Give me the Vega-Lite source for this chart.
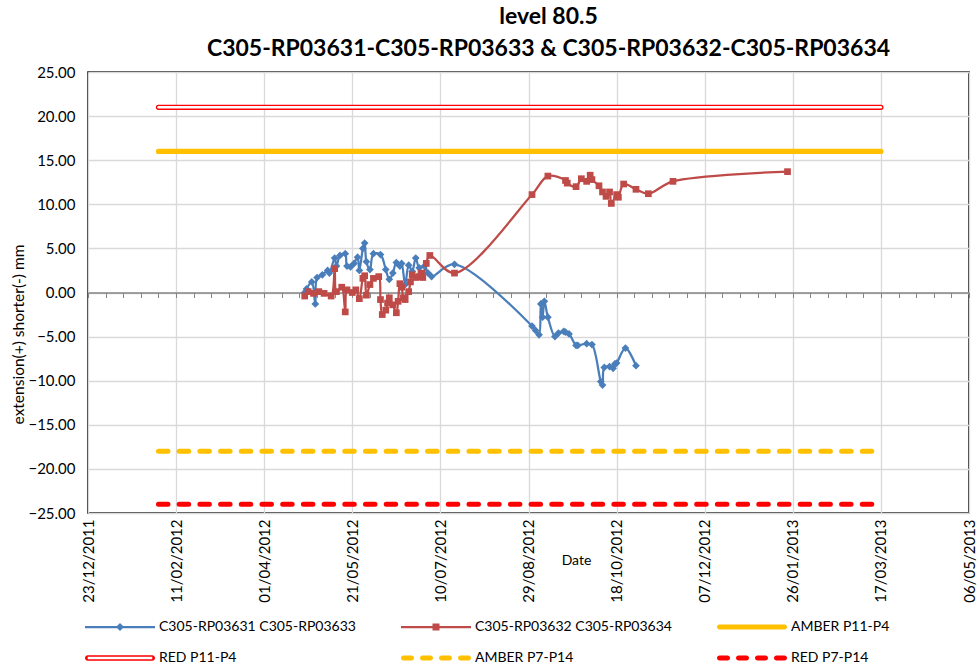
{
  "$schema": "https://vega.github.io/schema/vega-lite/v6.json",
  "width": 881,
  "height": 441,
  "autosize": "none",
  "padding": {"left": 88, "top": 72, "right": 9, "bottom": 157},
  "background": "white",
  "config": {
    "font": "Lato",
    "view": {"stroke": "black", "strokeWidth": 1.5}
  },
  "title": {
    "text": ["level 80.5", "C305-RP03631-C305-RP03633 & C305-RP03632-C305-RP03634"],
    "font": "Lato",
    "fontSize": 23,
    "fontWeight": "bold",
    "color": "black",
    "lineHeight": 32,
    "anchor": "middle",
    "dx": 20,
    "offset": 4
  },
  "datasets": {
    "obs": [
      {"series": "C305-RP03631 C305-RP03633", "date": "2012-04-24", "value": 0.0},
      {"series": "C305-RP03631 C305-RP03633", "date": "2012-04-25", "value": 0.4},
      {"series": "C305-RP03631 C305-RP03633", "date": "2012-04-28", "value": 1.2},
      {"series": "C305-RP03631 C305-RP03633", "date": "2012-04-30", "value": -1.3},
      {"series": "C305-RP03631 C305-RP03633", "date": "2012-05-01", "value": 1.7},
      {"series": "C305-RP03631 C305-RP03633", "date": "2012-05-04", "value": 2.0},
      {"series": "C305-RP03631 C305-RP03633", "date": "2012-05-07", "value": 2.5},
      {"series": "C305-RP03631 C305-RP03633", "date": "2012-05-08", "value": 2.2},
      {"series": "C305-RP03631 C305-RP03633", "date": "2012-05-11", "value": 3.9},
      {"series": "C305-RP03631 C305-RP03633", "date": "2012-05-12", "value": 3.0},
      {"series": "C305-RP03631 C305-RP03633", "date": "2012-05-14", "value": 4.2},
      {"series": "C305-RP03631 C305-RP03633", "date": "2012-05-17", "value": 4.4},
      {"series": "C305-RP03631 C305-RP03633", "date": "2012-05-18", "value": 3.0},
      {"series": "C305-RP03631 C305-RP03633", "date": "2012-05-20", "value": 2.9},
      {"series": "C305-RP03631 C305-RP03633", "date": "2012-05-22", "value": 3.3},
      {"series": "C305-RP03631 C305-RP03633", "date": "2012-05-24", "value": 4.0},
      {"series": "C305-RP03631 C305-RP03633", "date": "2012-05-25", "value": 2.5},
      {"series": "C305-RP03631 C305-RP03633", "date": "2012-05-27", "value": 5.0},
      {"series": "C305-RP03631 C305-RP03633", "date": "2012-05-28", "value": 5.6},
      {"series": "C305-RP03631 C305-RP03633", "date": "2012-05-29", "value": 3.5},
      {"series": "C305-RP03631 C305-RP03633", "date": "2012-05-31", "value": 2.6},
      {"series": "C305-RP03631 C305-RP03633", "date": "2012-06-02", "value": 4.4},
      {"series": "C305-RP03631 C305-RP03633", "date": "2012-06-06", "value": 4.3},
      {"series": "C305-RP03631 C305-RP03633", "date": "2012-06-09", "value": 2.6},
      {"series": "C305-RP03631 C305-RP03633", "date": "2012-06-11", "value": 1.5},
      {"series": "C305-RP03631 C305-RP03633", "date": "2012-06-13", "value": 2.2},
      {"series": "C305-RP03631 C305-RP03633", "date": "2012-06-15", "value": 3.4},
      {"series": "C305-RP03631 C305-RP03633", "date": "2012-06-17", "value": 3.0},
      {"series": "C305-RP03631 C305-RP03633", "date": "2012-06-18", "value": 3.3},
      {"series": "C305-RP03631 C305-RP03633", "date": "2012-06-20", "value": 0.9},
      {"series": "C305-RP03631 C305-RP03633", "date": "2012-06-22", "value": 3.1},
      {"series": "C305-RP03631 C305-RP03633", "date": "2012-06-24", "value": 2.4},
      {"series": "C305-RP03631 C305-RP03633", "date": "2012-06-26", "value": 3.9},
      {"series": "C305-RP03631 C305-RP03633", "date": "2012-06-28", "value": 2.8},
      {"series": "C305-RP03631 C305-RP03633", "date": "2012-07-01", "value": 3.0},
      {"series": "C305-RP03631 C305-RP03633", "date": "2012-07-03", "value": 2.2},
      {"series": "C305-RP03631 C305-RP03633", "date": "2012-07-05", "value": 1.8},
      {"series": "C305-RP03631 C305-RP03633", "date": "2012-07-18", "value": 3.2},
      {"series": "C305-RP03631 C305-RP03633", "date": "2012-08-31", "value": -3.8},
      {"series": "C305-RP03631 C305-RP03633", "date": "2012-09-02", "value": -4.3},
      {"series": "C305-RP03631 C305-RP03633", "date": "2012-09-04", "value": -4.8},
      {"series": "C305-RP03631 C305-RP03633", "date": "2012-09-05", "value": -1.3},
      {"series": "C305-RP03631 C305-RP03633", "date": "2012-09-06", "value": -2.8},
      {"series": "C305-RP03631 C305-RP03633", "date": "2012-09-07", "value": -1.0},
      {"series": "C305-RP03631 C305-RP03633", "date": "2012-09-09", "value": -2.8},
      {"series": "C305-RP03631 C305-RP03633", "date": "2012-09-13", "value": -5.0},
      {"series": "C305-RP03631 C305-RP03633", "date": "2012-09-15", "value": -4.6},
      {"series": "C305-RP03631 C305-RP03633", "date": "2012-09-18", "value": -4.4},
      {"series": "C305-RP03631 C305-RP03633", "date": "2012-09-19", "value": -4.5},
      {"series": "C305-RP03631 C305-RP03633", "date": "2012-09-21", "value": -4.7},
      {"series": "C305-RP03631 C305-RP03633", "date": "2012-09-25", "value": -6.0},
      {"series": "C305-RP03631 C305-RP03633", "date": "2012-09-26", "value": -6.0},
      {"series": "C305-RP03631 C305-RP03633", "date": "2012-10-01", "value": -5.8},
      {"series": "C305-RP03631 C305-RP03633", "date": "2012-10-04", "value": -5.9},
      {"series": "C305-RP03631 C305-RP03633", "date": "2012-10-09", "value": -10.1},
      {"series": "C305-RP03631 C305-RP03633", "date": "2012-10-10", "value": -10.5},
      {"series": "C305-RP03631 C305-RP03633", "date": "2012-10-11", "value": -8.5},
      {"series": "C305-RP03631 C305-RP03633", "date": "2012-10-14", "value": -8.4},
      {"series": "C305-RP03631 C305-RP03633", "date": "2012-10-16", "value": -8.6},
      {"series": "C305-RP03631 C305-RP03633", "date": "2012-10-17", "value": -8.1},
      {"series": "C305-RP03631 C305-RP03633", "date": "2012-10-18", "value": -8.0},
      {"series": "C305-RP03631 C305-RP03633", "date": "2012-10-23", "value": -6.3},
      {"series": "C305-RP03631 C305-RP03633", "date": "2012-10-29", "value": -8.3},
      {"series": "C305-RP03632 C305-RP03634", "date": "2012-04-24", "value": -0.4},
      {"series": "C305-RP03632 C305-RP03634", "date": "2012-04-26", "value": 0.1},
      {"series": "C305-RP03632 C305-RP03634", "date": "2012-04-29", "value": -0.1},
      {"series": "C305-RP03632 C305-RP03634", "date": "2012-05-02", "value": 0.1},
      {"series": "C305-RP03632 C305-RP03634", "date": "2012-05-05", "value": -0.1},
      {"series": "C305-RP03632 C305-RP03634", "date": "2012-05-09", "value": -0.4},
      {"series": "C305-RP03632 C305-RP03634", "date": "2012-05-11", "value": 2.7},
      {"series": "C305-RP03632 C305-RP03634", "date": "2012-05-12", "value": 0.1},
      {"series": "C305-RP03632 C305-RP03634", "date": "2012-05-15", "value": 0.6},
      {"series": "C305-RP03632 C305-RP03634", "date": "2012-05-17", "value": -2.2},
      {"series": "C305-RP03632 C305-RP03634", "date": "2012-05-18", "value": 0.3},
      {"series": "C305-RP03632 C305-RP03634", "date": "2012-05-21", "value": 0.0},
      {"series": "C305-RP03632 C305-RP03634", "date": "2012-05-23", "value": 0.3},
      {"series": "C305-RP03632 C305-RP03634", "date": "2012-05-25", "value": -0.7},
      {"series": "C305-RP03632 C305-RP03634", "date": "2012-05-27", "value": 1.6},
      {"series": "C305-RP03632 C305-RP03634", "date": "2012-05-28", "value": 1.9},
      {"series": "C305-RP03632 C305-RP03634", "date": "2012-05-29", "value": -0.3},
      {"series": "C305-RP03632 C305-RP03634", "date": "2012-05-31", "value": 0.9},
      {"series": "C305-RP03632 C305-RP03634", "date": "2012-06-02", "value": 1.6},
      {"series": "C305-RP03632 C305-RP03634", "date": "2012-06-05", "value": 1.8},
      {"series": "C305-RP03632 C305-RP03634", "date": "2012-06-06", "value": -0.8},
      {"series": "C305-RP03632 C305-RP03634", "date": "2012-06-07", "value": -2.5},
      {"series": "C305-RP03632 C305-RP03634", "date": "2012-06-09", "value": -2.0},
      {"series": "C305-RP03632 C305-RP03634", "date": "2012-06-10", "value": -1.2},
      {"series": "C305-RP03632 C305-RP03634", "date": "2012-06-11", "value": -0.6},
      {"series": "C305-RP03632 C305-RP03634", "date": "2012-06-13", "value": -1.4},
      {"series": "C305-RP03632 C305-RP03634", "date": "2012-06-15", "value": -2.3},
      {"series": "C305-RP03632 C305-RP03634", "date": "2012-06-16", "value": -1.0},
      {"series": "C305-RP03632 C305-RP03634", "date": "2012-06-17", "value": 1.0},
      {"series": "C305-RP03632 C305-RP03634", "date": "2012-06-18", "value": 0.6},
      {"series": "C305-RP03632 C305-RP03634", "date": "2012-06-19", "value": -0.6},
      {"series": "C305-RP03632 C305-RP03634", "date": "2012-06-20", "value": -0.8},
      {"series": "C305-RP03632 C305-RP03634", "date": "2012-06-22", "value": 0.1},
      {"series": "C305-RP03632 C305-RP03634", "date": "2012-06-23", "value": 1.2},
      {"series": "C305-RP03632 C305-RP03634", "date": "2012-06-24", "value": 2.0},
      {"series": "C305-RP03632 C305-RP03634", "date": "2012-06-26", "value": 1.7},
      {"series": "C305-RP03632 C305-RP03634", "date": "2012-06-28", "value": 1.8},
      {"series": "C305-RP03632 C305-RP03634", "date": "2012-06-29", "value": 2.2},
      {"series": "C305-RP03632 C305-RP03634", "date": "2012-06-30", "value": 1.7},
      {"series": "C305-RP03632 C305-RP03634", "date": "2012-07-02", "value": 3.3},
      {"series": "C305-RP03632 C305-RP03634", "date": "2012-07-04", "value": 4.2},
      {"series": "C305-RP03632 C305-RP03634", "date": "2012-07-18", "value": 2.2},
      {"series": "C305-RP03632 C305-RP03634", "date": "2012-08-31", "value": 11.1},
      {"series": "C305-RP03632 C305-RP03634", "date": "2012-09-09", "value": 13.2},
      {"series": "C305-RP03632 C305-RP03634", "date": "2012-09-19", "value": 12.7},
      {"series": "C305-RP03632 C305-RP03634", "date": "2012-09-20", "value": 12.4},
      {"series": "C305-RP03632 C305-RP03634", "date": "2012-09-25", "value": 12.0},
      {"series": "C305-RP03632 C305-RP03634", "date": "2012-09-28", "value": 12.9},
      {"series": "C305-RP03632 C305-RP03634", "date": "2012-10-01", "value": 12.6},
      {"series": "C305-RP03632 C305-RP03634", "date": "2012-10-03", "value": 13.3},
      {"series": "C305-RP03632 C305-RP03634", "date": "2012-10-04", "value": 12.8},
      {"series": "C305-RP03632 C305-RP03634", "date": "2012-10-08", "value": 12.1},
      {"series": "C305-RP03632 C305-RP03634", "date": "2012-10-10", "value": 11.4},
      {"series": "C305-RP03632 C305-RP03634", "date": "2012-10-12", "value": 10.9},
      {"series": "C305-RP03632 C305-RP03634", "date": "2012-10-14", "value": 11.4},
      {"series": "C305-RP03632 C305-RP03634", "date": "2012-10-15", "value": 10.1},
      {"series": "C305-RP03632 C305-RP03634", "date": "2012-10-18", "value": 11.1},
      {"series": "C305-RP03632 C305-RP03634", "date": "2012-10-19", "value": 10.8},
      {"series": "C305-RP03632 C305-RP03634", "date": "2012-10-22", "value": 12.3},
      {"series": "C305-RP03632 C305-RP03634", "date": "2012-10-29", "value": 11.7},
      {"series": "C305-RP03632 C305-RP03634", "date": "2012-11-05", "value": 11.2},
      {"series": "C305-RP03632 C305-RP03634", "date": "2012-11-19", "value": 12.6},
      {"series": "C305-RP03632 C305-RP03634", "date": "2013-01-23", "value": 13.7}
    ],
    "thr": [
      {"series": "AMBER P11-P4", "date": "2012-02-01", "value": 16},
      {"series": "AMBER P11-P4", "date": "2013-03-17", "value": 16},
      {"series": "RED P11-P4", "date": "2012-02-01", "value": 21},
      {"series": "RED P11-P4", "date": "2013-03-17", "value": 21},
      {"series": "AMBER P7-P14", "date": "2012-02-01", "value": -18},
      {"series": "AMBER P7-P14", "date": "2013-03-17", "value": -18},
      {"series": "RED P7-P14", "date": "2012-02-01", "value": -24},
      {"series": "RED P7-P14", "date": "2013-03-17", "value": -24}
    ]
  },
  "resolve": {"axis": {"x": "independent", "y": "independent"}},
  "layer": [
    {
      "data": {"name": "thr"},
      "transform": [{"filter": "datum.series === 'AMBER P11-P4' || datum.series === 'RED P11-P4'"}],
      "mark": {"type": "line", "strokeWidth": 5.2, "strokeCap": "round"},
      "encoding": {
        "x": {
          "field": "date", "type": "temporal",
          "scale": {"type": "utc", "domain": [1324598400000, 1367798400000], "nice": false},
          "axis": {
            "orient": "bottom",
            "values": [1324598400000, 1328918400000, 1333238400000, 1337558400000, 1341878400000, 1346198400000, 1350518400000, 1354838400000, 1359158400000, 1363478400000, 1367798400000],
            "labelExpr": "utcFormat(datum.value, '%d/%m/%Y')",
            "labelAngle": -90, "labelPadding": 6, "labelFontSize": 15, "labelColor": "black",
            "labelFlush": false, "labelOverlap": false, "labelBound": false,
            "ticks": false, "domain": false,
            "grid": true, "gridColor": "#D9D9D9", "gridWidth": 1.3,
            "title": "Date", "titleFontSize": 14, "titleFontWeight": "normal", "titleColor": "black",
            "titleX": 488, "titleY": 47, "titleBaseline": "middle", "titleAlign": "center"
          }
        },
        "y": {
          "field": "value", "type": "quantitative",
          "scale": {"domain": [-25, 25], "nice": false, "zero": false},
          "axis": {
            "orient": "left",
            "values": [-25, -20, -15, -10, -5, 0, 5, 10, 15, 20, 25],
            "format": ".2f",
            "grid": true, "gridColor": "#D9D9D9", "gridWidth": 1.3,
            "domain": false, "ticks": false,
            "labelPadding": 13, "labelFontSize": 15, "labelColor": "black",
            "title": "extension(+) shorter(-) mm", "titleFontSize": 15.5, "titleFontWeight": "normal", "titleColor": "black",
            "titleX": -70, "titleY": 262, "titleAngle": -90, "titleBaseline": "middle", "titleAlign": "center"
          }
        },
        "color": {
          "field": "series", "type": "nominal",
          "scale": {
            "domain": ["C305-RP03631 C305-RP03633", "C305-RP03632 C305-RP03634", "AMBER P11-P4", "RED P11-P4", "AMBER P7-P14", "RED P7-P14"],
            "range": ["#4A7EBB", "#BE4B48", "#FFC000", "#FF0000", "#FFC000", "#FF0000"]
          },
          "legend": {
            "orient": "none", "legendX": -5, "legendY": 548,
            "title": null, "columns": 3, "direction": "horizontal",
            "gridAlign": "all", "columnPadding": 43, "rowPadding": 17, "padding": 0,
            "symbolSize": 100, "symbolOpacity": 1, "symbolStrokeWidth": 0, "labelOffset": 62,
            "labelFontSize": 14, "labelColor": "black", "labelLimit": 400
          }
        }
      }
    },
    {
      "data": {"name": "thr"},
      "transform": [{"filter": "datum.series === 'RED P11-P4'"}],
      "mark": {"type": "line", "color": "white", "strokeWidth": 2.4, "strokeCap": "round"},
      "encoding": {
        "x": {"field": "date", "type": "temporal", "axis": null},
        "y": {"field": "value", "type": "quantitative", "axis": null}
      }
    },
    {
      "data": {"name": "thr"},
      "transform": [{"filter": "datum.series === 'AMBER P7-P14' || datum.series === 'RED P7-P14'"}],
      "mark": {"type": "line", "strokeWidth": 5, "strokeCap": "round", "strokeDash": [9.5, 11.2]},
      "encoding": {
        "x": {"field": "date", "type": "temporal", "axis": null},
        "y": {"field": "value", "type": "quantitative", "axis": null},
        "color": {"field": "series", "type": "nominal"}
      }
    },
    {
      "data": {"name": "obs"},
      "mark": {"type": "line", "interpolate": "catmull-rom", "strokeWidth": 2.25},
      "encoding": {
        "x": {
          "field": "date", "type": "temporal",
          "axis": {
            "orient": "bottom", "offset": -220.5,
            "values": [1324598400000, 1325462400000, 1326326400000, 1327190400000, 1328054400000, 1328918400000, 1329782400000, 1330646400000, 1331510400000, 1332374400000, 1333238400000, 1334102400000, 1334966400000, 1335830400000, 1336694400000, 1337558400000, 1338422400000, 1339286400000, 1340150400000, 1341014400000, 1341878400000, 1342742400000, 1343606400000, 1344470400000, 1345334400000, 1346198400000, 1347062400000, 1347926400000, 1348790400000, 1349654400000, 1350518400000, 1351382400000, 1352246400000, 1353110400000, 1353974400000, 1354838400000, 1355702400000, 1356566400000, 1357430400000, 1358294400000, 1359158400000, 1360022400000, 1360886400000, 1361750400000, 1362614400000, 1363478400000, 1364342400000, 1365206400000, 1366070400000, 1366934400000, 1367798400000],
            "labels": false, "grid": false, "title": null,
            "domain": true, "domainColor": "#868686", "domainWidth": 1.5,
            "ticks": true, "tickColor": "#868686", "tickWidth": 1, "tickSize": 5
          }
        },
        "y": {"field": "value", "type": "quantitative", "axis": null},
        "color": {"field": "series", "type": "nominal"}
      }
    },
    {
      "data": {"name": "obs"},
      "transform": [{"filter": "datum.series === 'C305-RP03631 C305-RP03633'"}],
      "mark": {"type": "point", "shape": "diamond", "size": 60, "filled": true, "opacity": 1},
      "encoding": {
        "x": {"field": "date", "type": "temporal", "axis": null},
        "y": {"field": "value", "type": "quantitative", "axis": null},
        "color": {"field": "series", "type": "nominal"}
      }
    },
    {
      "data": {"name": "obs"},
      "transform": [{"filter": "datum.series === 'C305-RP03632 C305-RP03634'"}],
      "mark": {"type": "point", "shape": "square", "size": 45, "filled": true, "opacity": 1},
      "encoding": {
        "x": {"field": "date", "type": "temporal", "axis": null},
        "y": {"field": "value", "type": "quantitative", "axis": null},
        "color": {"field": "series", "type": "nominal"}
      }
    },
    {
      "data": {"name": "thr"},
      "transform": [{"filter": "false"}],
      "mark": {"type": "point", "filled": true, "opacity": 1},
      "encoding": {
        "x": {"field": "date", "type": "temporal", "axis": null},
        "y": {"field": "value", "type": "quantitative", "axis": null},
        "color": {"field": "series", "type": "nominal"},
        "shape": {
          "field": "series", "type": "nominal",
          "scale": {
            "domain": ["C305-RP03631 C305-RP03633", "C305-RP03632 C305-RP03634", "AMBER P11-P4", "RED P11-P4", "AMBER P7-P14", "RED P7-P14"],
            "range": [
              "M-1,-0.225H13V0.225H-1Z M6,-0.8L6.8,0L6,0.8L5.2,0Z",
              "M-1,-0.225H13V0.225H-1Z M5.3,-0.7H6.7V0.7H5.3Z",
              "M-0.5,-0.5H12.5A0.5,0.5 0 0 1 12.5,0.5H-0.5A0.5,0.5 0 0 1 -0.5,-0.5Z",
              "M-0.45,-0.55H12.45A0.55,0.55 0 0 1 12.45,0.55H-0.45A0.55,0.55 0 0 1 -0.45,-0.55Z M-0.45,-0.25V0.25H12.45V-0.25Z",
              "M-0.5,-0.5H1.1A0.5,0.5 0 0 1 1.1,0.5H-0.5A0.5,0.5 0 0 1 -0.5,-0.5Z M3.3,-0.5H4.9A0.5,0.5 0 0 1 4.9,0.5H3.3A0.5,0.5 0 0 1 3.3,-0.5Z M7.1,-0.5H8.7A0.5,0.5 0 0 1 8.7,0.5H7.1A0.5,0.5 0 0 1 7.1,-0.5Z M10.9,-0.5H12.5A0.5,0.5 0 0 1 12.5,0.5H10.9A0.5,0.5 0 0 1 10.9,-0.5Z",
              "M-0.5,-0.5H1.1A0.5,0.5 0 0 1 1.1,0.5H-0.5A0.5,0.5 0 0 1 -0.5,-0.5Z M3.3,-0.5H4.9A0.5,0.5 0 0 1 4.9,0.5H3.3A0.5,0.5 0 0 1 3.3,-0.5Z M7.1,-0.5H8.7A0.5,0.5 0 0 1 8.7,0.5H7.1A0.5,0.5 0 0 1 7.1,-0.5Z M10.9,-0.5H12.5A0.5,0.5 0 0 1 12.5,0.5H10.9A0.5,0.5 0 0 1 10.9,-0.5Z"
            ]
          }
        }
      }
    }
  ]
}
